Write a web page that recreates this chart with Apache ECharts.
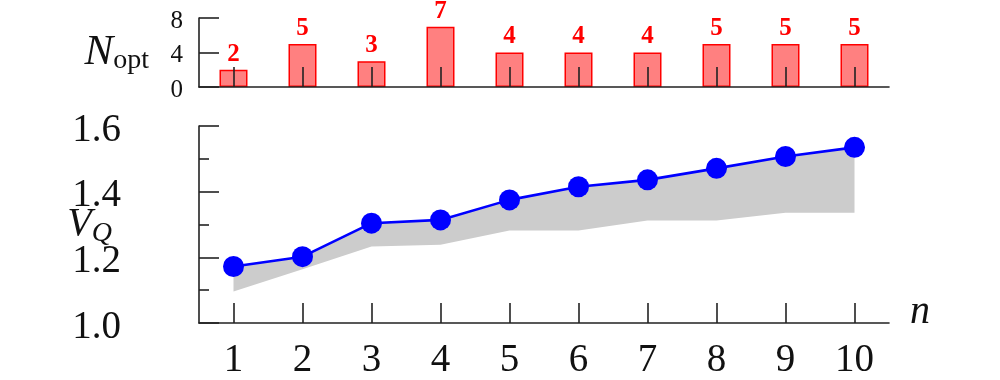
<!DOCTYPE html>
<html>
<head>
<meta charset="utf-8">
<script src="https://cdn.jsdelivr.net/npm/echarts@6/dist/echarts.min.js"></script>
<style>html,body{margin:0;padding:0;background:#fff}#c{width:1000px;height:380px}</style>
</head>
<body>
<div id="c"></div>
<script>
// ---- data ----
var categories = ['1','2','3','4','5','6','7','8','9','10'];
var nOpt = [2, 5, 3, 7, 4, 4, 4, 5, 5, 5];
var vQ = [1.172, 1.202, 1.304, 1.314, 1.375, 1.415, 1.436, 1.471, 1.507, 1.535];
var vQLower = [1.096, 1.164, 1.233, 1.238, 1.282, 1.282, 1.312, 1.312, 1.336, 1.336];
var nOptTicks = [0, 4, 8];
var vQTicks = [1.0, 1.2, 1.4, 1.6];

var bandHeight = vQ.map(function (v, i) { return +(v - vQLower[i]).toFixed(4); });

var FONT = '"Liberation Serif", "DejaVu Serif", serif';
var AX = '#222';

var chart = echarts.init(document.getElementById('c'), null, {renderer: 'canvas'});
chart.setOption({
  animation: false,
  backgroundColor: '#fff',
  grid: [
    {left: 199, top: 18, width: 690, height: 69},
    {left: 199, top: 126, width: 690, height: 197}
  ],
  xAxis: [
    {
      gridIndex: 0, type: 'category', data: categories, boundaryGap: true, z: 5,
      axisLine: {show: true, lineStyle: {color: AX, width: 1.6}},
      axisTick: {show: true, inside: true, alignWithLabel: true, length: 20, interval: 0, lineStyle: {color: AX, width: 1.6}},
      axisLabel: {show: false}, splitLine: {show: false}
    },
    {
      gridIndex: 1, type: 'category', data: categories, boundaryGap: true, z: 5,
      name: 'n', nameLocation: 'end', nameGap: 21,
      nameTextStyle: {fontFamily: FONT, fontStyle: 'italic', fontSize: 40, color: '#111', verticalAlign: 'bottom', lineHeight: 22},
      axisLine: {show: true, lineStyle: {color: AX, width: 1.6}},
      axisTick: {show: true, inside: true, alignWithLabel: true, length: 20, interval: 0, lineStyle: {color: AX, width: 1.6}},
      axisLabel: {interval: 0, margin: 18, fontFamily: FONT, fontSize: 39, color: '#111'},
      splitLine: {show: false}
    }
  ],
  yAxis: [
    {
      gridIndex: 0, type: 'value', min: nOptTicks[0], max: nOptTicks[nOptTicks.length - 1], interval: 4,
      name: '{N|N}{s|opt}', nameLocation: 'middle', nameRotate: 0, nameGap: 50, nameMoveOverlap: false,
      nameTextStyle: {
        align: 'right',
        rich: {
          N: {fontFamily: FONT, fontStyle: 'italic', fontSize: 43, color: '#111'},
          s: {fontFamily: FONT, fontSize: 28, color: '#111', padding: [16, 0, 0, 0]}
        }
      },
      axisLine: {show: true, lineStyle: {color: AX, width: 1.6}},
      axisTick: {show: true, inside: true, length: 20, lineStyle: {color: AX, width: 1.6}},
      axisLabel: {margin: 16, color: '#111',
        formatter: function (v) { return '{t|' + v + '}'; },
        rich: {t: {fontFamily: FONT, fontSize: 25, color: '#111', padding: [6, 0, 0, 0]}}},
      splitLine: {show: false}
    },
    {
      gridIndex: 1, type: 'value', min: vQTicks[0], max: vQTicks[vQTicks.length - 1], interval: 0.2,
      name: '{V|V}{s|Q}', nameLocation: 'middle', nameRotate: 0, nameGap: 87, nameMoveOverlap: false,
      nameTextStyle: {
        align: 'right',
        rich: {
          V: {fontFamily: FONT, fontStyle: 'italic', fontSize: 40, color: '#111'},
          s: {fontFamily: FONT, fontStyle: 'italic', fontSize: 28, color: '#111', padding: [18, 0, 0, 0]}
        }
      },
      axisLine: {show: true, lineStyle: {color: AX, width: 1.6}},
      axisTick: {show: true, inside: true, length: 20, lineStyle: {color: AX, width: 1.6}},
      minorTick: {show: true, splitNumber: 2, length: 10, lineStyle: {color: AX, width: 1.6}},
      axisLabel: {margin: 78, color: '#111',
        formatter: function (v) { return '{t|' + v.toFixed(1) + '}'; },
        rich: {t: {fontFamily: FONT, fontSize: 39, color: '#111', padding: [9, 0, 0, 0]}}},
      splitLine: {show: false}
    }
  ],
  series: [
    {
      type: 'bar', xAxisIndex: 0, yAxisIndex: 0, data: nOpt, barWidth: 28, z: 2,
      itemStyle: {color: '#ff8080', borderColor: '#ff0000', borderWidth: 1.5},
      label: {show: true, position: 'top', distance: 3, fontFamily: FONT, fontWeight: 'bold', fontSize: 25, color: '#ff0000'}
    },
    {
      type: 'line', xAxisIndex: 1, yAxisIndex: 1, data: vQLower, stack: 'band',
      symbol: 'none', lineStyle: {opacity: 0}, silent: true
    },
    {
      type: 'line', xAxisIndex: 1, yAxisIndex: 1, data: bandHeight, stack: 'band',
      symbol: 'none', lineStyle: {opacity: 0}, areaStyle: {color: '#cccccc', opacity: 1}, silent: true
    },
    {
      type: 'line', xAxisIndex: 1, yAxisIndex: 1, data: vQ, z: 4,
      symbol: 'circle', symbolSize: 21,
      lineStyle: {color: '#0000ff', width: 2.6}, itemStyle: {color: '#0000ff'}
    }
  ]
});
</script>
</body>
</html>
